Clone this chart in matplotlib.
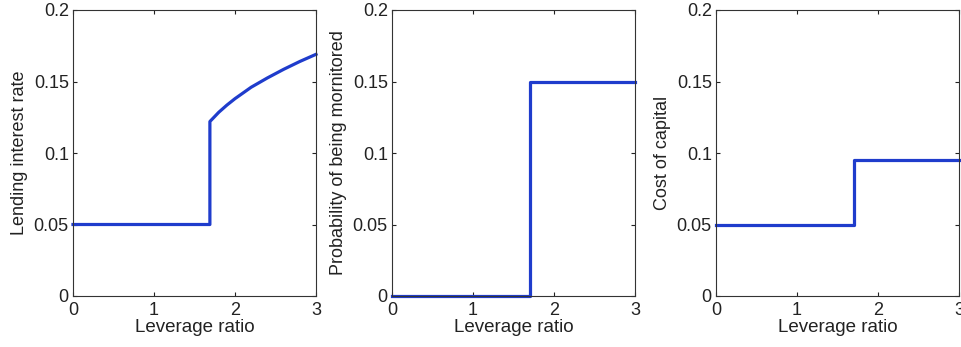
import matplotlib
matplotlib.use("Agg")
import matplotlib.pyplot as plt

plt.rcParams['font.family'] = ['Liberation Sans', 'DejaVu Sans']

# Panel 1: lending interest rate
lev1 = [0, 1.69, 1.69, 1.8, 1.9, 2.0, 2.2, 2.4, 2.6, 2.8, 3.0]
rate1 = [0.05, 0.05, 0.122, 0.1285, 0.1335, 0.138, 0.146, 0.1525, 0.1585, 0.164, 0.169]
# Panel 2: probability of being monitored
lev2 = [0, 1.70, 1.70, 3.0]
prob2 = [0.0, 0.0, 0.150, 0.150]
# Panel 3: cost of capital
lev3 = [0, 1.70, 1.70, 3.0]
cost3 = [0.05, 0.05, 0.095, 0.095]

ylabels = ["Lending interest rate", "Probability of being mornitored", "Cost of capital"]
xlabel = "Leverage ratio"
xticks = [0, 1, 2, 3]
yticks = [0, 0.05, 0.1, 0.15, 0.2]
yticklabels = ["0", "0.05", "0.1", "0.15", "0.2"]

W, H = 962, 347
fig = plt.figure(figsize=(W / 100, H / 100), dpi=100)
lefts = [73, 392, 716]
color = "#1f3ccc"
series = [(lev1, rate1), (lev2, prob2), (lev3, cost3)]
for i, (x, y) in enumerate(series):
    ax = fig.add_axes([lefts[i] / W, (H - 296) / H, 243 / W, 286 / H])
    ax.plot(x, y, color=color, lw=2.3, solid_joinstyle='round', clip_on=False)
    ax.set_xlim(0, 3)
    ax.set_ylim(0, 0.2)
    ax.set_xticks(xticks)
    ax.set_xticklabels([str(t) for t in xticks])
    ax.set_yticks(yticks)
    ax.set_yticklabels(yticklabels)
    ax.tick_params(direction='in', top=True, right=True, length=3, width=0.8,
                   labelsize=13, colors='#222222')
    ax.tick_params(axis='x', pad=4)
    ax.tick_params(axis='y', pad=3)
    ax.set_xlabel(xlabel, fontsize=13.5, labelpad=0, color='#222222')
    ax.set_ylabel(ylabels[i], fontsize=13, labelpad=4, color='#222222')
    for s in ax.spines.values():
        s.set_linewidth(0.8)
        s.set_color('#333333')

fig.savefig("out.png", dpi=100)
